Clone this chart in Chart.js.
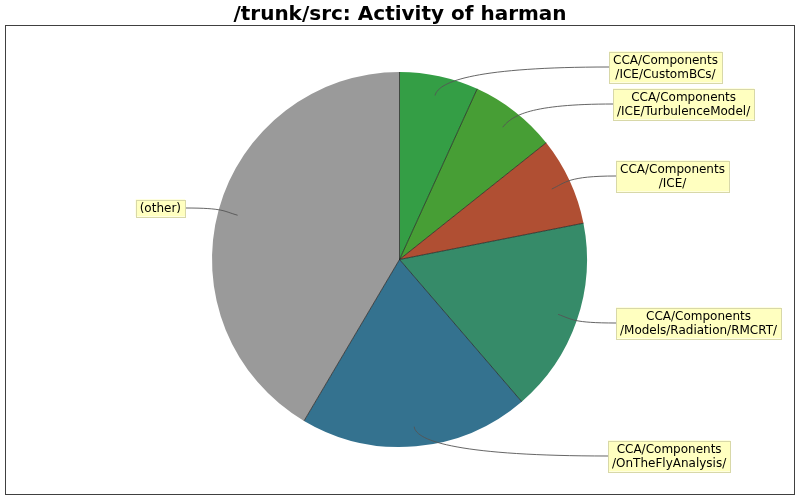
<!DOCTYPE html>
<html>
<head>
<meta charset="utf-8">
<script src="https://cdn.jsdelivr.net/npm/chart.js@4"></script>
<style>
  html, body { margin: 0; padding: 0; background: #fff; }
  #wrap { width: 800px; height: 500px; position: relative; }
</style>
</head>
<body>
<div id="wrap"><canvas id="grafico" width="800" height="500"></canvas></div>
<script>
// --- dados ---
const categorias = [
    ['CCA/Components', '/ICE/CustomBCs/'],
    ['CCA/Components', '/ICE/TurbulenceModel/'],
    ['CCA/Components', '/ICE/'],
    ['CCA/Components', '/Models/Radiation/RMCRT/'],
    ['CCA/Components', '/OnTheFlyAnalysis/'],
    ['(other)']
];
const valores = [6.8, 7.5, 7.6, 16.8, 19.8, 41.5];
const cores = ['#349e45', '#479e35', '#b04f33', '#368b69', '#34728f', '#9a9a9a'];
const titulo = '/trunk/src: Activity of harman';

// caixas dos rótulos: borda esquerda (ou direita) e centro vertical
const caixas = [
    { x: 609, y: 67, lado: 'dir' },
    { x: 613, y: 104, lado: 'dir' },
    { x: 616, y: 176, lado: 'dir' },
    { x: 616, y: 323, lado: 'dir' },
    { x: 608, y: 456, lado: 'dir' },
    { x: 185, y: 208, lado: 'esq' }
];

const FONTE = '12px "DejaVu Sans"';

// --- plugin: moldura, título, divisórias e rótulos com linhas curvas ---
const rotulosPlugin = {
    id: 'rotulos',
    beforeDraw(chart) {
        const c = chart.ctx;
        c.save();
        c.fillStyle = '#fff';
        c.fillRect(0, 0, chart.width, chart.height);
        c.strokeStyle = '#404040';
        c.lineWidth = 1;
        c.strokeRect(5.5, 25.5, 789, 469);
        c.fillStyle = '#000';
        c.font = 'bold 20px "DejaVu Sans"';
        c.textAlign = 'center';
        c.textBaseline = 'alphabetic';
        c.fillText(titulo, 400, 20);
        c.restore();
    },
    afterDatasetsDraw(chart) {
        const c = chart.ctx;
        const meta = chart.getDatasetMeta(0);
        c.save();

        // linhas radiais entre as fatias
        c.strokeStyle = '#1a1a1a';
        c.lineWidth = 0.7;
        meta.data.forEach(arc => {
            c.beginPath();
            c.moveTo(arc.x, arc.y);
            c.lineTo(arc.x + Math.cos(arc.startAngle) * arc.outerRadius,
                     arc.y + Math.sin(arc.startAngle) * arc.outerRadius);
            c.stroke();
        });

        c.font = FONTE;
        meta.data.forEach((arc, i) => {
            const meio = (arc.startAngle + arc.endAngle) / 2;
            const r = arc.outerRadius;
            const ax = arc.x + Math.cos(meio) * r * 0.895;
            const ay = arc.y + Math.sin(meio) * r * 0.895;
            const cx1 = arc.x + Math.cos(meio) * r * 0.975;
            const cy1 = arc.y + Math.sin(meio) * r * 0.975;

            const linhas = categorias[i];
            const larg = Math.max(...linhas.map(t => c.measureText(t).width)) + 8;
            const alt = linhas.length * 14 + 3;
            const cx = caixas[i];
            const bx = cx.lado === 'dir' ? cx.x : cx.x - larg;
            const by = cx.y - alt / 2;
            const ex = cx.lado === 'dir' ? bx : bx + larg;
            const ctrl2x = ex + (ax - ex) * 0.75;

            c.strokeStyle = '#555';
            c.lineWidth = 0.9;
            c.beginPath();
            c.moveTo(ax, ay);
            c.bezierCurveTo(cx1, cy1, ctrl2x, cx.y, ex, cx.y);
            c.stroke();

            c.fillStyle = '#ffffc0';
            c.fillRect(bx, by, larg, alt);
            c.strokeStyle = '#d8d8a8';
            c.lineWidth = 1;
            c.strokeRect(Math.round(bx) + 0.5, Math.round(by) + 0.5, Math.round(larg), Math.round(alt));

            c.fillStyle = '#000';
            c.textAlign = 'center';
            c.textBaseline = 'middle';
            linhas.forEach((t, k) => {
                c.fillText(t, bx + larg / 2, by + 2 + 7 + k * 14);
            });
        });
        c.restore();
    }
};

new Chart(document.getElementById('grafico').getContext('2d'), {
    type: 'pie',
    data: {
        labels: categorias.map(l => l.join('')),
        datasets: [{
            data: valores,
            backgroundColor: cores,
            borderWidth: 0
        }]
    },
    options: {
        responsive: false,
        animation: false,
        devicePixelRatio: 1,
        layout: { padding: { left: 212, right: 213, top: 72, bottom: 53 } },
        plugins: {
            legend: { display: false },
            title: { display: false },
            tooltip: { enabled: false }
        }
    },
    plugins: [rotulosPlugin]
});
</script>
</body>
</html>
